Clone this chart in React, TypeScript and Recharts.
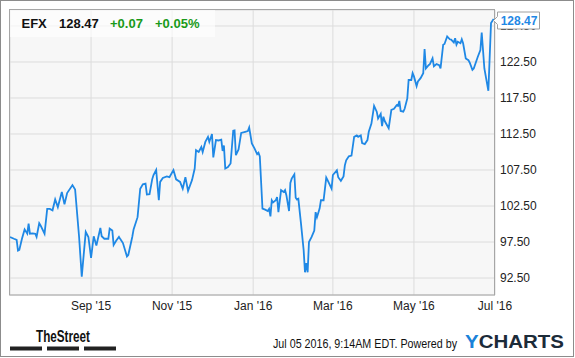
import { LineChart, Line, XAxis, YAxis, CartesianGrid } from "recharts"

const FONT = '"Liberation Sans", Arial, sans-serif'

// day index counted from Jul 1 2015 (day 1)
const tradeDays = [
  1, 4, 6, 7, 8, 10, 12, 14, 15, 16,
  18, 20, 21, 23, 24, 27, 29, 31, 33, 35,
  37, 39, 40, 42, 44, 48, 50, 53, 55, 58,
  60, 62, 64, 66, 69, 70, 72, 75, 76, 78,
  79, 81, 83, 84, 86, 89, 90, 93, 94, 97,
  99, 101, 103, 104, 106, 108, 109, 111, 113, 114,
  116, 119, 121, 124, 126, 129, 131, 133, 135, 138,
  140, 141, 143, 145, 146, 148, 150, 151, 153, 154,
  156, 158, 160, 161, 162, 163, 165, 167, 169, 170,
  171, 173, 175, 178, 180, 181, 183, 185, 187, 188,
  189, 191, 193, 195, 196, 197, 198, 199, 201, 202,
  203, 205, 207, 208, 209, 211, 212, 213, 215, 216,
  217, 218, 220, 222, 223, 224, 225, 226, 228, 230,
  231, 232, 234, 235, 237, 239, 240, 243, 244, 247,
  248, 250, 252, 253, 254, 256, 258, 260, 262, 263,
  265, 266, 268, 270, 271, 273, 275, 277, 278, 280,
  281, 282, 283, 286, 288, 290, 292, 293, 294, 295,
  297, 298, 300, 301, 303, 304, 305, 307, 308, 310,
  312, 313, 314, 316, 317, 319, 320, 322, 324, 325,
  327, 328, 330, 332, 333, 335, 336, 337, 338, 340,
  341, 342, 344, 346, 347, 349, 350, 353, 355, 356,
  358, 361, 363, 365,
]

const closes = [
  98.2, 97.95, 97.8, 96.3, 96.4, 97.95, 99.25, 98.65, 100.05, 98.65,
  98.7, 98.65, 98.2, 100.1, 99.8, 98.65, 102.1, 102.1, 101.9, 103.4,
  102.35, 103.75, 104.45, 102.75, 104.3, 105.4, 104.8, 98.2, 92.7, 98.9,
  98.2, 95.3, 98.3, 97.0, 99.45, 98.3, 97.95, 97.95, 99.35, 99.1,
  97.1, 97.7, 98.2, 97.9, 97.35, 95.5, 95.7, 98.2, 99.25, 100.95,
  104.9, 105.5, 105.6, 104.1, 104.15, 106.2, 106.8, 107.5, 103.3, 105.85,
  106.4, 106.6, 106.5, 107.5, 106.2, 105.85, 104.9, 106.5, 104.6, 106.1,
  107.7, 110.25, 110.0, 110.7, 110.0, 111.4, 112.1, 111.4, 112.5, 109.25,
  111.65, 111.6, 111.7, 110.15, 110.9, 107.7, 107.9, 108.4, 112.95, 113.0,
  109.55, 110.35, 112.65, 112.8, 112.9, 113.4, 111.2, 110.5, 109.7, 109.9,
  109.4, 102.15, 102.0, 101.8, 102.1, 101.05, 103.3, 103.0, 103.3, 103.75,
  101.65, 104.7, 104.45, 104.7, 104.0, 101.8, 105.7, 106.3, 106.9, 103.65,
  103.4, 103.5, 100.05, 96.35, 93.3, 94.55, 93.3, 97.5, 98.2, 99.1,
  101.65, 100.95, 102.15, 103.3, 103.3, 106.45, 106.1, 104.9, 106.8, 107.45,
  106.5, 106.0, 106.6, 108.15, 108.85, 109.4, 109.5, 112.1, 112.3, 112.1,
  112.3, 111.25, 111.1, 111.65, 112.8, 113.95, 116.4, 115.6, 114.65, 115.3,
  113.6, 114.9, 114.3, 113.3, 115.85, 116.0, 116.5, 116.4, 117.1, 115.7,
  115.6, 116.0, 117.45, 120.0, 120.0, 120.95, 120.5, 119.15, 119.8, 120.25,
  120.95, 124.3, 121.6, 122.05, 122.2, 123.0, 121.9, 122.2, 122.05, 121.6,
  124.9, 125.0, 126.05, 125.65, 125.6, 125.2, 125.8, 124.9, 125.3, 125.1,
  125.65, 125.1, 123.0, 122.75, 122.4, 121.4, 121.6, 123.2, 124.15, 126.6,
  121.6, 118.5, 127.9, 128.47,
]

const monthTicks = [62, 123, 184, 244, 305, 366]
const monthLabels = ["Sep '15", "Nov '15", "Jan '16", "Mar '16", "May '16", "Jul '16"]
const priceTicks = [92.5, 97.5, 102.5, 107.5, 112.5, 117.5, 122.5, 127.5]

const ticker = "EFX"
const lastPrice = 128.47
const change = "+0.07"
const changePct = "+0.05%"

const data = tradeDays.map((d, i) => ({ day: d, price: closes[i] }))

// layout of the plot area
const W = 575
const H = 358
const PLOT = { left: 10, top: 10, right: 495, bottom: 295 }
const Y_DOMAIN: [number, number] = [90.14, 129.72]

const tagY =
  PLOT.top + ((Y_DOMAIN[1] - lastPrice) / (Y_DOMAIN[1] - Y_DOMAIN[0])) * (PLOT.bottom - PLOT.top) + 1.5

function PriceTag() {
  const x = PLOT.right - 1.5
  const c = tagY
  return (
    <g>
      <path
        d={`M${x} ${c} L${x + 4} ${c - 4} L${x + 4} ${c - 8.5} L${x + 46} ${c - 8.5} L${x + 46} ${c + 8.5} L${x + 4} ${c + 8.5} L${x + 4} ${c + 4} Z`}
        fill="#fff"
        stroke="#a0a0a0"
      />
      <text x={x + 25.5} y={c + 4.5} textAnchor="middle" fontSize={12} fontWeight="bold" fill="#1f88e5" fontFamily={FONT}>
        {lastPrice.toFixed(2)}
      </text>
    </g>
  )
}

const tickStyle = { fontSize: 12, fill: "#222", fontFamily: FONT }

export default function App() {
  return (
    <div style={{ position: "absolute", left: 0, top: 0, width: W, height: H, background: "#fff" }}>
      <LineChart
        width={W}
        height={H}
        data={data}
        margin={{ top: PLOT.top, right: 20, bottom: 33, left: PLOT.left }}
      >
        <CartesianGrid stroke="#dcdcdc" fill="#f7f7f7" />
        <XAxis
          dataKey="day"
          type="number"
          domain={[1, 366]}
          ticks={monthTicks}
          tickFormatter={(d) => monthLabels[monthTicks.indexOf(d)]}
          interval={0}
          axisLine={false}
          tickLine={false}
          tickSize={0}
          tickMargin={6}
          height={30}
          tick={tickStyle}
          allowDataOverflow
        />
        <YAxis
          orientation="right"
          type="number"
          domain={Y_DOMAIN}
          ticks={priceTicks}
          tickFormatter={(v) => v.toFixed(2)}
          axisLine={false}
          tickLine={false}
          tickSize={0}
          tickMargin={5}
          width={60}
          tick={tickStyle}
          allowDataOverflow
        />
        <Line type="linear" dataKey="price" stroke="#1f88e5" strokeWidth={1.8} dot={false} isAnimationActive={false} />
      </LineChart>

      <svg width={W} height={H} style={{ position: "absolute", left: 0, top: 0, pointerEvents: "none" }}>
        <rect x={0.5} y={0.5} width={573} height={356} fill="none" stroke="#8c8c8c" />
        <rect x={9.5} y={9.5} width={485} height={285.5} fill="none" stroke="#a6a6a6" />

        <PriceTag />

        <rect x={10} y={10} width={205} height={27} fill="#fff" fillOpacity={0.65} />
        <g fontFamily={FONT} fontSize={13} fontWeight="bold">
          <text x={21.5} y={28.3} fill="#111">{ticker}</text>
          <text x={59} y={28.3} fill="#111">{lastPrice.toFixed(2)}</text>
          <text x={110} y={28.3} fill="#1a9a1a">{change}</text>
          <text x={155} y={28.3} fill="#1a9a1a">{changePct}</text>
        </g>

        <text x={36} y={341.7} fontFamily={FONT} fontSize={16} fontWeight="bold" fill="#111" textLength={54} lengthAdjust="spacingAndGlyphs">
          TheStreet
        </text>
        <rect x={10} y={346.5} width={32} height={4} fill="#222" />
        <rect x={47} y={346.5} width={32} height={4} fill="#222" />
        <rect x={84} y={346.5} width={32} height={4} fill="#222" />

        <text x={273} y={348} fontFamily={FONT} fontSize={12} fill="#111" textLength={184} lengthAdjust="spacingAndGlyphs">
          Jul 05 2016, 9:14AM EDT.  Powered by
        </text>
        <text x={465} y={348.3} fontFamily={FONT} fontSize={18} fontWeight="bold" textLength={99} lengthAdjust="spacingAndGlyphs">
          <tspan fill="#1a82d9">Y</tspan>
          <tspan fill="#1c2b39">CHARTS</tspan>
        </text>
      </svg>
    </div>
  )
}
